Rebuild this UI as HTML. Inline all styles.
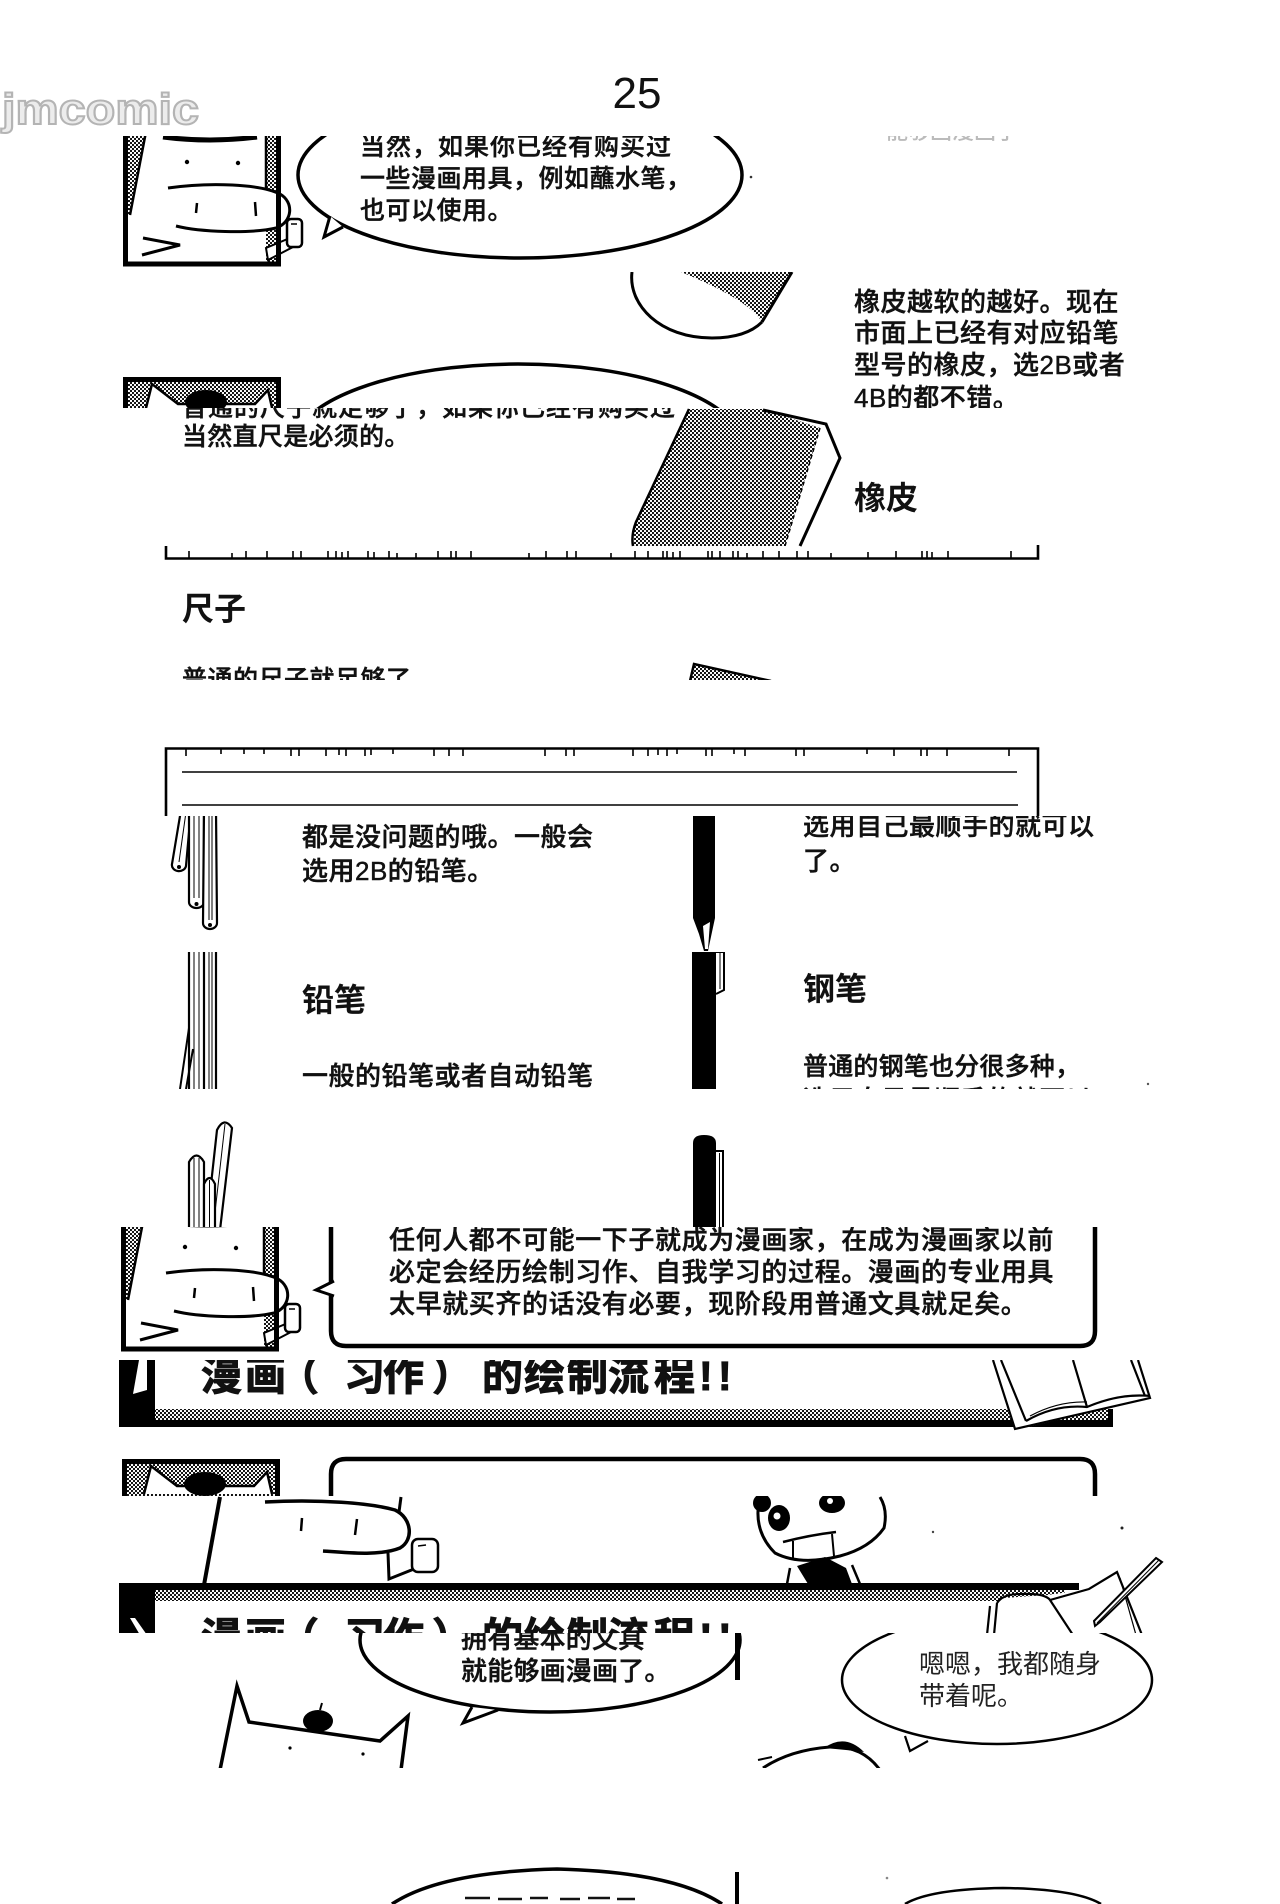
<!DOCTYPE html>
<html>
<head>
<meta charset="utf-8">
<style>
html,body{margin:0;padding:0;background:#fff;width:1280px;height:1904px;overflow:hidden;}
svg{display:block;}
text{font-family:"Liberation Sans","Noto Sans CJK SC",sans-serif;fill:#111;font-weight:500;}
.t{stroke:#111;stroke-width:0.45;}
.b{font-weight:700;}
</style>
</head>
<body>
<svg width="1280" height="1904" viewBox="0 0 1280 1904" xmlns="http://www.w3.org/2000/svg" style="overflow:hidden">
<defs>
  <pattern id="st" width="4" height="4" patternUnits="userSpaceOnUse">
    <rect width="4" height="4" fill="#fff"/>
    <circle cx="1" cy="1" r="1.1" fill="#000"/>
    <circle cx="3" cy="3" r="1.1" fill="#000"/>
  </pattern>
  <g id="chA">
    <rect x="125.5" y="90" width="153" height="174" fill="#fff"/>
    <polygon points="127,90 154,90 130,215 127,215" fill="url(#st)"/>
    <path d="M154,90 L130,215" stroke="#000" stroke-width="2.5" fill="none"/>
    <rect x="266" y="90" width="11" height="172" fill="url(#st)"/>
    <path d="M266,90 L266,205" stroke="#000" stroke-width="2.5"/>
    <path d="M163,137 Q210,143 257,137" stroke="#000" stroke-width="5" fill="none"/>
    <circle cx="187" cy="162" r="2.2" fill="#000"/>
    <circle cx="238" cy="163" r="2.2" fill="#000"/>
    <path d="M168,188 C210,182 260,184 280,194 C294,202 293,222 276,228 C250,234 200,232 176,226" fill="#fff" stroke="#000" stroke-width="3"/>
    <path d="M197,203 L196,213 M255,202 L256,216" stroke="#000" stroke-width="2.5"/>
    <path d="M143,238 L180,245 L142,255" stroke="#000" stroke-width="3" fill="none"/>
    <polygon points="266,248 290,238 293,247 268,260" fill="#fff" stroke="#000" stroke-width="2"/>
    <rect x="287" y="219" width="15" height="28" rx="4" fill="#fff" stroke="#000" stroke-width="2.5"/>
    <path d="M291,224 L297,224" stroke="#000" stroke-width="1.5"/>
    <path d="M125.5,90 V264 H278.5 V90" stroke="#000" stroke-width="5" fill="none"/>
  </g>
  <g id="chB">
    <rect x="125.5" y="379.5" width="153" height="100" fill="url(#st)" stroke="#000" stroke-width="5"/>
    <polygon points="145,412 152,384 178,404 255,404 268,390 273,412" fill="#fff"/>
    <path d="M145,412 L152,384 L178,404 L255,404 L268,390 L273,412" stroke="#000" stroke-width="2.5" fill="none"/>
    <ellipse cx="206" cy="402" rx="21" ry="12" fill="#000"/>
  </g>
</defs>

<rect width="1280" height="1904" fill="#fff"/>

<!-- S0 -->
<text x="637" y="108" font-size="44" text-anchor="middle" style="font-family:'Liberation Sans',sans-serif;font-weight:400">25</text>
<text x="2" y="124" font-size="44" textLength="197" lengthAdjust="spacingAndGlyphs" style="font-family:'Liberation Sans',sans-serif;font-weight:700;fill:#ececec;stroke:#b4b4b4;stroke-width:2">jmcomic</text>

<!-- S1: 136-272 -->
<svg x="0" y="136" width="1280" height="136" viewBox="0 136 1280 136">
  <use href="#chA"/>
  <ellipse cx="520" cy="175" rx="222" ry="83" fill="#fff" stroke="#000" stroke-width="3.5"/>
  <path d="M330,216 L324,237 L343,227" fill="#fff" stroke="#000" stroke-width="3"/>
  <text class="t" x="360" y="155" font-size="25" letter-spacing="1">当然，如果你已经有购买过</text>
  <text class="t" x="360" y="187" font-size="25" letter-spacing="0.5">一些漫画用具，例如蘸水笔，</text>
  <text class="t" x="360" y="219" font-size="25" letter-spacing="0.5">也可以使用。</text>
  <circle cx="751" cy="177" r="1.3" fill="#333"/>
  <text x="886" y="139" font-size="22" style="fill:#bbb">能够画漫画了</text>
</svg>

<!-- S2: 272-408 -->
<svg x="0" y="272" width="1280" height="136" viewBox="0 272 1280 136">
  <path d="M632,272 C628,305 660,338 712,338 C735,338 752,332 762,322" fill="none" stroke="#000" stroke-width="3"/>
  <path d="M681,272 L792,272 L762,322 C752,305 720,288 681,272 Z" fill="url(#st)"/>
  <path d="M792,272 L762,322" stroke="#000" stroke-width="3"/>
  <text class="t" x="854" y="311" font-size="26" letter-spacing="0.5">橡皮越软的越好。现在</text>
  <text class="t" x="854" y="342" font-size="26" letter-spacing="0.5">市面上已经有对应铅笔</text>
  <text class="t" x="854" y="374" font-size="26" letter-spacing="0.5">型号的橡皮，选2B或者</text>
  <text class="t" x="854" y="407" font-size="26" letter-spacing="0.5">4B的都不错。</text>
  <use href="#chB"/>
  <ellipse cx="518" cy="447" rx="225" ry="83" fill="#fff" stroke="#000" stroke-width="3.5"/>
</svg>

<!-- S3: 408-680 -->
<svg x="0" y="408" width="1280" height="272" viewBox="0 408 1280 272">
  <text class="t" x="182" y="416" font-size="25" letter-spacing="1">普通的尺子就足够了，如果你已经有购买过</text>
  <text class="t" x="182" y="445" font-size="25" letter-spacing="0.3">当然直尺是必须的。</text>
  <polygon points="689,409 763,409 826,424 840,458 800,546 634,546 634,525" fill="#fff"/>
  <polygon points="689,409 763,409 820,428 785,546 634,546 634,525" fill="url(#st)"/>
  <path d="M763,410 L826,424 L840,458 L800,546" fill="none" stroke="#000" stroke-width="3"/>
  <path d="M820,428 L785,546" fill="none" stroke="#000" stroke-width="1.5" stroke-dasharray="4,3"/>
  <path d="M689,409 L636,522 Q631,535 633,546" fill="none" stroke="#000" stroke-width="2.5"/>
  <text x="854" y="509" font-size="32" class="b">橡皮</text>
  <path d="M166,546 V558.5 H1038 V545" fill="none" stroke="#000" stroke-width="2.6"/>
  <path stroke="#000" stroke-width="1.6" d="M189,551V558 M232,553V558 M246,551V558 M267,551V558 M293,551V558 M301,551V558 M328,551V558 M336,551V558 M342,552V558 M348,551V558 M368,551V558 M374,552V558 M389,551V558 M397,553V558 M416,553V558 M438,551V558 M451,551V558 M456,551V558 M471,551V558 M529,553V558 M546,551V558 M567,551V558 M576,551V558 M611,553V558 M635,551V558 M648,551V558 M663,551V558 M667,551V558 M673,552V558 M680,551V558 M708,551V558 M712,551V558 M720,551V558 M733,551V558 M738,551V558 M747,553V558 M763,551V558 M779,551V558 M797,551V558 M808,551V558 M831,553V558 M868,552V558 M896,551V558 M922,551V558 M927,551V558 M932,552V558 M948,551V558 M1011,551V558"/>
  <text x="182" y="620" font-size="32" class="b">尺子</text>
  <text class="t" x="182" y="688" font-size="25" letter-spacing="0.5">普通的尺子就足够了，</text>
  <polygon points="690,681 694,664 771,681" fill="url(#st)"/>
  <path d="M690,681 L694,664 L771,681" fill="none" stroke="#000" stroke-width="2.5"/>
</svg>

<!-- S4: 746-816 -->
<svg x="0" y="746" width="1280" height="70" viewBox="0 746 1280 70">
  <path d="M166,830 V748.5 H1038 V830" fill="none" stroke="#000" stroke-width="2.6"/>
  <path d="M182,772 H1017 M182,805 H1018" stroke="#000" stroke-width="1.6"/>
  <path stroke="#000" stroke-width="1.6" d="M186,749V756 M221,749V754 M244,749V754 M264,749V754 M291,749V756 M299,749V756 M326,749V756 M339,749V755 M346,749V756 M365,749V756 M371,749V755 M393,749V754 M434,749V756 M449,749V756 M463,749V756 M545,749V756 M566,749V756 M574,749V756 M633,749V756 M648,749V756 M658,749V755 M667,749V756 M677,749V754 M706,749V756 M712,749V756 M734,749V754 M745,749V756 M796,749V756 M804,749V756 M867,749V754 M894,749V756 M921,749V756 M927,749V756 M947,749V756 M1009,749V756"/>
</svg>

<!-- S5: 816-952 -->
<svg x="0" y="816" width="1280" height="136" viewBox="0 816 1280 136">
  <path d="M181,810 L172,864 A7,6 0 0 0 186,866 L191,810 Z" fill="#fff" stroke="#000" stroke-width="2.2"/>
  <path d="M186,812 L179,862" stroke="#000" stroke-width="1"/>
  <circle cx="179" cy="867" r="2" fill="#000"/>
  <path d="M189,810 L189,902 A7.5,6 0 0 0 204,902 L204,810 Z" fill="#fff" stroke="#000" stroke-width="2.2"/>
  <path d="M194,812 V898 M199,812 V898" stroke="#000" stroke-width="1"/>
  <circle cx="196.5" cy="904" r="2" fill="#000"/>
  <path d="M204,810 L203,923 A7,6 0 0 0 217,923 L216,810 Z" fill="#fff" stroke="#000" stroke-width="2.2"/>
  <path d="M209,812 V920 M212,812 V920" stroke="#000" stroke-width="1"/>
  <circle cx="210" cy="925" r="2" fill="#000"/>
  <text class="t" x="302" y="846" font-size="26" letter-spacing="0.5">都是没问题的哦。一般会</text>
  <text class="t" x="302" y="880" font-size="26" letter-spacing="0.5">选用2B的铅笔。</text>
  <polygon points="693,810 715,810 715,918 712,932 708,951 704,951 699,934 693,918" fill="#000"/>
  <polygon points="703,926 710,922 708,949 705,949" fill="#fff"/>
  <text class="t" x="803" y="835" font-size="26" letter-spacing="0.5">选用自己最顺手的就可以</text>
  <text class="t" x="803" y="870" font-size="26" letter-spacing="0.5">了。</text>
</svg>

<!-- S6: 952-1089 -->
<svg x="0" y="952" width="1280" height="137" viewBox="0 952 1280 137">
  <path d="M189,952 V1089 M204,952 V1089 M216,952 V1089" stroke="#000" stroke-width="2.2"/>
  <path d="M194,952 V1089 M199,952 V1089 M209,952 V1089 M212,952 V1089" stroke="#000" stroke-width="1"/>
  <path d="M189,1028 L180,1089 M193,1049 L186,1089" stroke="#000" stroke-width="2"/>
  <text x="302" y="1011" font-size="32" class="b">铅笔</text>
  <text class="t" x="302" y="1085" font-size="26" letter-spacing="0.5">一般的铅笔或者自动铅笔</text>
  <rect x="692" y="952" width="24" height="137" fill="#000"/>
  <path d="M716,952 L724,952 L724,990 L716,994" fill="#fff" stroke="#000" stroke-width="2"/>
  <path d="M720,952 V989" stroke="#000" stroke-width="1"/>
  <text x="803" y="1000" font-size="32" class="b">钢笔</text>
  <text class="t" x="803" y="1075" font-size="25" letter-spacing="0.2">普通的钢笔也分很多种，</text>
  <text class="t" x="803" y="1108" font-size="25" letter-spacing="1.3">选用自己最顺手的就可以</text>
  <circle cx="1148" cy="1084" r="1.2" fill="#555"/>
</svg>

<!-- S7: 1089-1227 -->
<svg x="0" y="1089" width="1280" height="138" viewBox="0 1089 1280 138">
  <path d="M206,1230 L217,1130 Q224,1116 232,1128 L220,1230 Z" fill="#fff" stroke="#000" stroke-width="2.2"/>
  <path d="M225,1124 L213,1230" stroke="#000" stroke-width="1"/>
  <path d="M189,1230 L189,1162 Q196.5,1149 204,1162 L204,1230 Z" fill="#fff" stroke="#000" stroke-width="2.2"/>
  <path d="M194,1158 V1230 M199,1158 V1230" stroke="#000" stroke-width="1"/>
  <path d="M204,1230 L204,1184 Q209.5,1172 215,1184 L215,1230 Z" fill="#fff" stroke="#000" stroke-width="2.2"/>
  <path d="M209.5,1180 V1230" stroke="#000" stroke-width="1"/>
  <path d="M693,1230 L693,1143 Q693,1135 704,1135 Q716,1135 716,1143 L716,1230 Z" fill="#000"/>
  <path d="M716,1151 L723,1151 L723,1230" fill="#fff" stroke="#000" stroke-width="2"/>
  <path d="M719.5,1153 V1230" stroke="#000" stroke-width="1"/>
</svg>

<!-- S8: 1227-1360 -->
<svg x="0" y="1227" width="1280" height="133" viewBox="0 1227 1280 133">
  <use href="#chA" transform="translate(-2,1085)"/>
  <path d="M331,1220 V1331 Q331,1346 346,1346 H1080 Q1095,1346 1095,1331 V1220" fill="#fff" stroke="#000" stroke-width="4.5"/>
  <path d="M334,1281 L316,1290 L334,1296" fill="#fff" stroke="#000" stroke-width="3"/>
  <text class="t" x="389" y="1249" font-size="26" letter-spacing="0.6">任何人都不可能一下子就成为漫画家，在成为漫画家以前</text>
  <text class="t" x="389" y="1281" font-size="26" letter-spacing="0.6">必定会经历绘制习作、自我学习的过程。漫画的专业用具</text>
  <text class="t" x="389" y="1313" font-size="26" letter-spacing="0.6">太早就买齐的话没有必要，现阶段用普通文具就足矣。</text>
</svg>

<!-- S9: 1360-1496 -->
<svg x="0" y="1360" width="1280" height="136" viewBox="0 1360 1280 136">
  <rect x="155" y="1409" width="955" height="11" fill="url(#st)"/>
  <rect x="119" y="1420" width="994" height="7" fill="#000"/>
  <rect x="1108" y="1409" width="5" height="18" fill="#000"/>
  <rect x="119" y="1360" width="36" height="67" fill="#000"/>
  <polygon points="139,1360 147,1360 147,1390 133,1394" fill="#fff"/>
  <text x="201 245 278 344 383 432 482 524 567 608 654 699 718" y="1390" font-size="41" class="b" style="stroke:#111;stroke-width:1">漫画（习作）的绘制流程!!</text>
  <polygon points="993,1360 1140,1360 1152,1398 1015,1430" fill="#fff"/>
  <path d="M993,1360 L1015,1429 L1150,1398 L1138,1360 M1001,1360 L1026,1421 M1073,1360 L1087,1407 M1131,1360 L1145,1396" fill="none" stroke="#000" stroke-width="2.2"/>
  <path d="M1026,1421 Q1055,1404 1087,1407 Q1120,1393 1150,1396" fill="none" stroke="#000" stroke-width="2.2"/>
  <path d="M1030,1416 Q1058,1401 1087,1402" fill="none" stroke="#000" stroke-width="1.2"/>
  <use href="#chB" transform="translate(-1,1082)"/>
  <path d="M331,1500 V1474 Q331,1459 346,1459 H1080 Q1095,1459 1095,1474 V1500" fill="#fff" stroke="#000" stroke-width="4.5"/>
</svg>

<!-- S10: 1496-1633 -->
<svg x="0" y="1496" width="1280" height="137" viewBox="0 1496 1280 137">
  <path d="M220,1497 L204,1585" stroke="#000" stroke-width="4" fill="none"/>
  <path d="M401,1497 L399,1512" stroke="#000" stroke-width="3"/>
  <path d="M265,1502 C320,1499 370,1503 395,1510 C412,1518 414,1540 400,1548 C380,1556 350,1553 323,1551" fill="#fff" stroke="#000" stroke-width="3.5"/>
  <path d="M302,1518 L301,1531 M357,1519 L355,1535" stroke="#000" stroke-width="2.5"/>
  <path d="M388,1553 L389,1579 L414,1569" stroke="#000" stroke-width="3" fill="none"/>
  <rect x="412" y="1539" width="26" height="33" rx="6" fill="#fff" stroke="#000" stroke-width="2.5"/>
  <path d="M418,1546 L426,1545" stroke="#000" stroke-width="1.5"/>
  <path d="M760,1497 Q752,1530 775,1553 Q800,1566 840,1556 Q870,1548 884,1528 Q888,1510 880,1497" fill="#fff" stroke="#000" stroke-width="3"/>
  <ellipse cx="762" cy="1503" rx="9" ry="9" fill="#000"/>
  <ellipse cx="779" cy="1518" rx="11" ry="13" fill="#000"/>
  <circle cx="777" cy="1516" r="3.5" fill="#fff"/>
  <ellipse cx="832" cy="1503" rx="13" ry="10" fill="#000"/>
  <circle cx="830" cy="1501" r="3" fill="#fff"/>
  <path d="M783,1542 Q810,1535 836,1532" stroke="#000" stroke-width="2.5" fill="none"/>
  <path d="M793,1541 L793,1560 M832,1534 L834,1556" stroke="#000" stroke-width="2"/>
  <polygon points="797,1566 825,1557 846,1568 852,1584 808,1584" fill="#000"/>
  <path d="M787,1584 L790,1568 M860,1584 L852,1565" stroke="#000" stroke-width="2.5"/>
  <circle cx="933" cy="1532" r="1.2" fill="#444"/>
  <circle cx="1122" cy="1528" r="1.5" fill="#222"/>
  <rect x="119" y="1583" width="960" height="7" fill="#000"/>
  <rect x="155" y="1590" width="910" height="11" fill="url(#st)"/>
  <rect x="119" y="1583" width="36" height="52" fill="#000"/>
  <polygon points="130,1618 135,1618 147,1635 140,1635" fill="#fff"/>
  <text x="201 245 278 344 383 432 482 524 567 608 654 699 718" y="1652" font-size="41" class="b" style="stroke:#111;stroke-width:1">漫画（习作）的绘制流程!!</text>
  <polygon points="987,1635 990,1607 1003,1598 1048,1595 1089,1589 1117,1572 1142,1635" fill="#fff"/>
  <path d="M987,1635 L990,1606 M994,1635 L997,1603 M997,1603 Q1003,1594 1020,1594 Q1045,1593 1050,1600 L1073,1635" fill="none" stroke="#000" stroke-width="2.2"/>
  <path d="M1050,1600 L1089,1589 L1117,1572 L1142,1635" fill="none" stroke="#000" stroke-width="2.2"/>
  <path d="M1120,1578 L1136,1635" fill="none" stroke="#000" stroke-width="1.2"/>
  <polygon points="1156,1558 1162,1562 1100,1622 1095,1626 1094,1621" fill="#fff" stroke="#000" stroke-width="2"/>
  <path d="M1159,1560 L1097,1623" stroke="#000" stroke-width="1"/>
</svg>

<!-- S11: 1633-1768 -->
<svg x="0" y="1633" width="1280" height="135" viewBox="0 1633 1280 135">
  <ellipse cx="550" cy="1640" rx="190" ry="72" fill="#fff" stroke="#000" stroke-width="3.5"/>
  <path d="M472,1707 L463,1723 L498,1710" fill="#fff" stroke="#000" stroke-width="3"/>
  <text class="t" x="461" y="1648" font-size="26" letter-spacing="0.2">拥有基本的文具</text>
  <text class="t" x="461" y="1680" font-size="26" letter-spacing="0.2">就能够画漫画了。</text>
  <rect x="735" y="1633" width="5" height="47" fill="#000"/>
  <path d="M220,1770 L237,1686 L249,1722 L380,1741 L408,1716 L401,1770" fill="#fff" stroke="#000" stroke-width="3.5"/>
  <ellipse cx="318" cy="1721" rx="15" ry="11" fill="#000"/>
  <path d="M320,1710 L322,1703" stroke="#000" stroke-width="2"/>
  <circle cx="290" cy="1748" r="1.6" fill="#000"/>
  <circle cx="363" cy="1754" r="1.6" fill="#000"/>
  <ellipse cx="997" cy="1680" rx="155" ry="64" fill="#fff" stroke="#000" stroke-width="2.5"/>
  <path d="M905,1736 L910,1751 L928,1741" fill="#fff" stroke="#000" stroke-width="2.2"/>
  <text x="919" y="1673" font-size="26" style="fill:#222;font-weight:400">嗯嗯，我都随身</text>
  <text x="919" y="1705" font-size="26" style="fill:#222;font-weight:400">带着呢。</text>
  <path d="M763,1768 Q790,1750 830,1747 Q862,1745 880,1770" fill="#fff" stroke="#000" stroke-width="3"/>
  <path d="M824,1748 Q845,1733 864,1752 Q848,1750 824,1748 Z" fill="#000"/>
  <path d="M758,1760 L772,1757" stroke="#000" stroke-width="2"/>
</svg>

<!-- S12: 1768-1904 -->
<path d="M392,1904 Q440,1872 557,1869 Q674,1872 722,1904" fill="none" stroke="#000" stroke-width="3.5"/>
<rect x="735" y="1872" width="4" height="32" fill="#000"/>
<path d="M465,1898 H490 M498,1899 H522 M530,1898 H548 M560,1899 H580 M588,1898 H610 M617,1899 H635" stroke="#111" stroke-width="2.5"/>
<path d="M905,1904 Q930,1889 1003,1888 Q1076,1889 1101,1904" fill="none" stroke="#000" stroke-width="2.5"/>
<circle cx="887" cy="1878" r="1.3" fill="#888"/>
</svg>
</body>
</html>
